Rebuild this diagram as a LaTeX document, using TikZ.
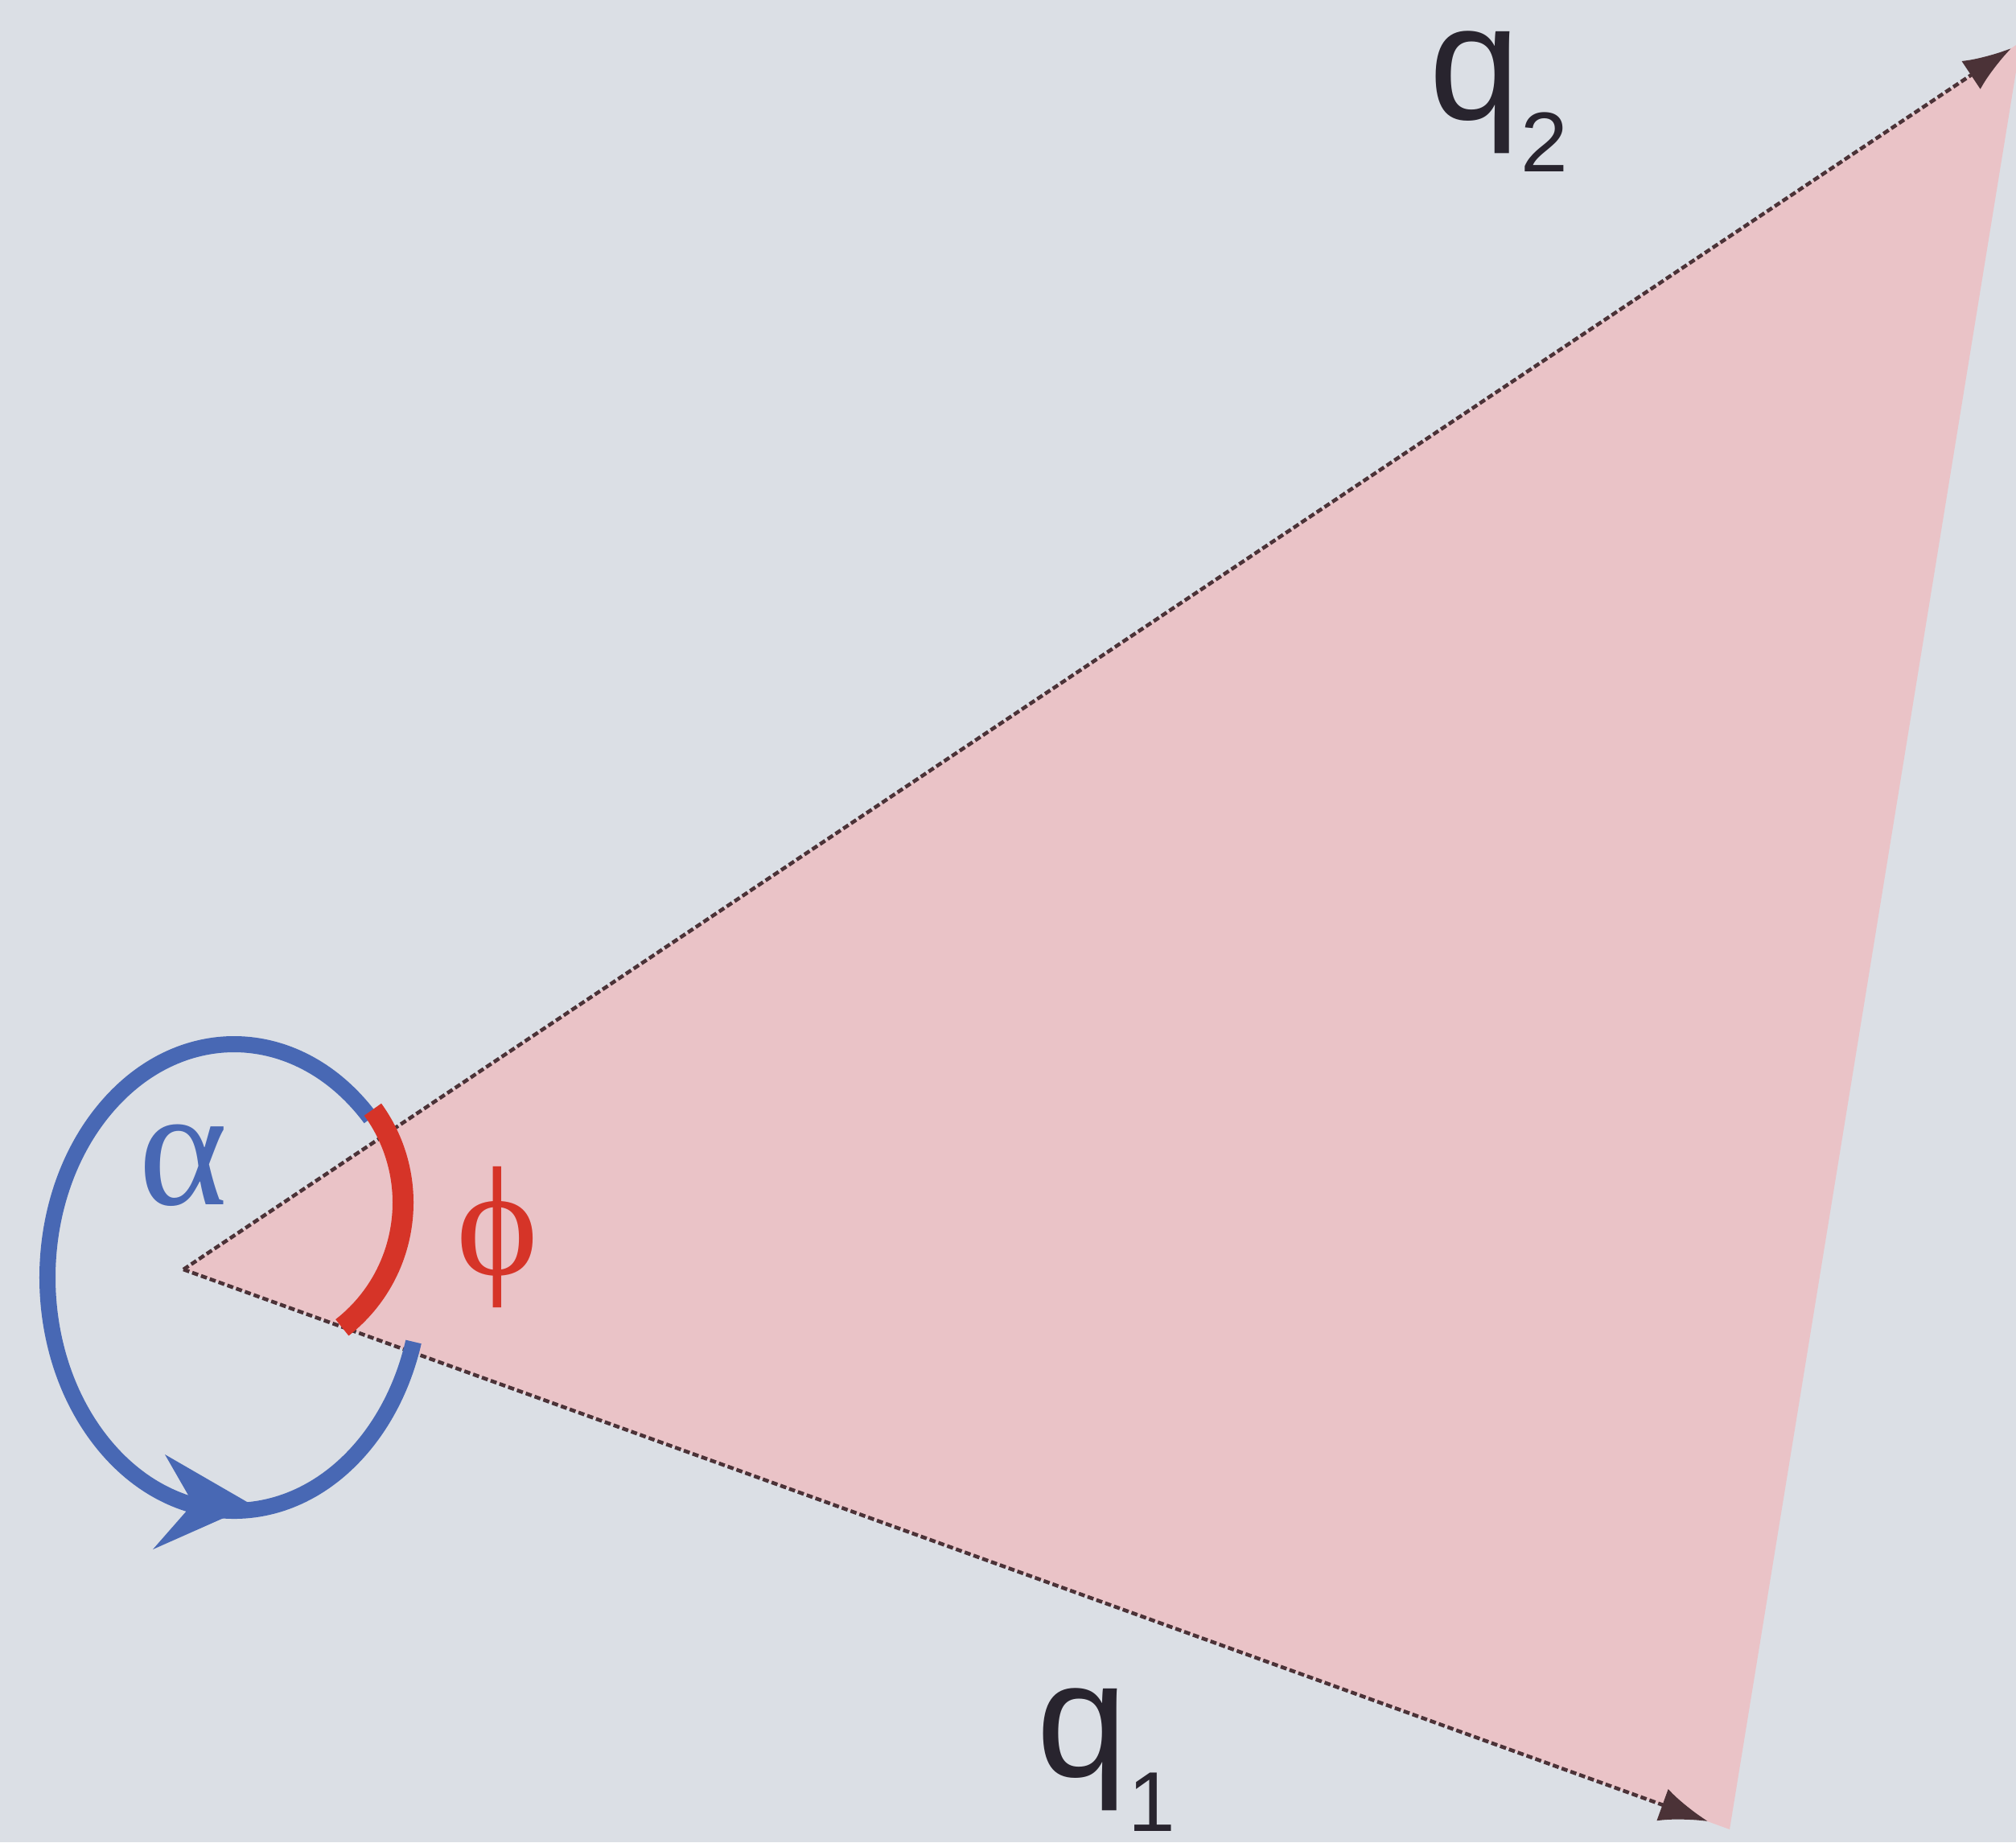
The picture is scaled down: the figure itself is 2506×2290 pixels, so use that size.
\documentclass[tikz,border=0pt]{standalone}
\usepackage{fontspec}
\setmainfont{Liberation Serif}
\newfontfamily\sansq{Liberation Sans}
\usetikzlibrary{arrows.meta}
\definecolor{bg}{RGB}{219,223,229}
\definecolor{pinkfill}{RGB}{234,195,199}
\definecolor{arcblue}{RGB}{72,104,180}
\definecolor{arcred}{RGB}{214,52,40}
\definecolor{edgedark}{RGB}{75,50,55}
\definecolor{labdark}{RGB}{40,36,46}
\begin{document}
\begin{tikzpicture}[x=0.01cm,y=-0.01cm,
  edge/.style={draw=edgedark, line width=1.3pt, dash pattern=on 2.2pt off 1.1pt,
    -{Latex[length=0.6cm,width=0.42cm]}},
  bluearc/.style={draw=arcblue, line width=0.2cm},
  bluehead/.style={fill=arcblue},
  redarc/.style={draw=arcred, line width=0.26cm},
  qlab/.style={inner sep=0, text=labdark, font=\sansq\fontsize{58}{62}\selectfont},
  greek/.style={inner sep=0}]
\fill[bg] (0,0) rectangle (2506,2290);
\useasboundingbox (0,0) rectangle (2506,2290);
\coordinate (O) at (228,1578);
\coordinate (Q2) at (2500,60);
\coordinate (Q1) at (2123,2264);
\coordinate (P2) at (2512,52);
\coordinate (P1) at (2150,2274);
\fill[pinkfill] (O) -- (P2) -- (P1) -- cycle;
\draw[edge] (O) -- (Q2);
\draw[edge] (O) -- (Q1);
\draw[bluearc] ([shift={(-43:232 and 290)}]291,1588) arc[start angle=-43, end angle=-344, x radius=232, y radius=290];
\coordinate (tip) at (314,1871);
\coordinate (barbU) at (205,1808);
\coordinate (notch) at (240,1869);
\coordinate (barbL) at (190,1926);
\fill[bluehead] (tip) -- (barbU) -- (notch) -- (barbL) -- cycle;
\draw[redarc] ([shift={(-36:197)}]304,1495) arc[start angle=-36, end angle=52, radius=197];
\node[qlab, anchor=base west] (q2) at (1776,148) {q\raisebox{-0.65cm}{\fontsize{30}{32}\selectfont 2}};
\node[qlab, anchor=base west] (q1) at (1288,2208) {q\raisebox{-0.68cm}{\fontsize{30}{32}\selectfont 1}};
\node[greek, text=arcblue, font=\fontsize{60}{62}\selectfont] (alpha) at (228,1449) {α};
\node[greek, text=arcred, font=\fontsize{55}{58}\selectfont] (phi) at (618,1538) {ϕ};
\end{tikzpicture}
\end{document}
